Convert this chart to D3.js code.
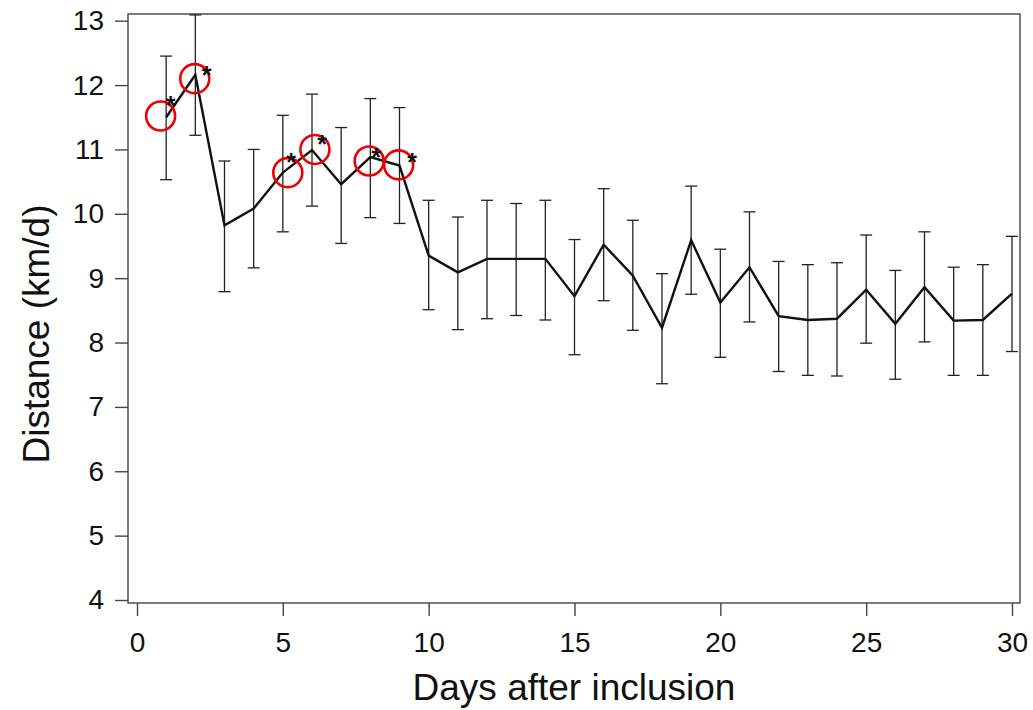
<!DOCTYPE html>
<html>
<head>
<meta charset="utf-8">
<script src="https://cdn.jsdelivr.net/npm/d3@7"></script>
<style>
  body { margin: 0; background: #fff; }
  text { font-family: "Liberation Sans", Arial, sans-serif; fill: #111; }
</style>
</head>
<body>
<div class="chart"></div>
<script>
// day-by-day mean distance with error bars
let days = d3.range(1, 31);
let means = [11.50, 12.16, 9.82, 10.08, 10.64, 10.99, 10.46, 10.88, 10.75, 9.35,
             9.09, 9.30, 9.30, 9.30, 8.72, 9.52, 9.04, 8.23, 9.59, 8.62,
             9.17, 8.41, 8.35, 8.37, 8.82, 8.29, 8.86, 8.34, 8.35, 8.76];
let upper = [12.45, 13.09, 10.82, 11.00, 11.53, 11.86, 11.34, 11.79, 11.65, 10.21,
             9.95, 10.21, 10.16, 10.21, 9.60, 10.39, 9.90, 9.07, 10.43, 9.45,
             10.03, 9.26, 9.21, 9.24, 9.67, 9.12, 9.72, 9.17, 9.21, 9.65];
let lower = [10.53, 11.22, 8.79, 9.16, 9.72, 10.12, 9.54, 9.94, 9.85, 8.51,
             8.20, 8.37, 8.42, 8.35, 7.81, 8.65, 8.19, 7.36, 8.75, 7.77,
             8.32, 7.55, 7.49, 7.48, 7.99, 7.43, 8.01, 7.49, 7.49, 7.86];

// significant days: red circles and asterisks (in data units)
let circleDays   = [0.81, 1.98, 5.17, 6.10, 7.96, 8.97];
let circleValues = [11.52, 12.10, 10.64, 11.00, 10.82, 10.76];
let starDays     = [1.15, 2.39, 5.28, 6.35, 8.20, 9.43];
let starValues   = [11.75, 12.22, 10.87, 11.15, 10.95, 10.87];

let xTicks = [0, 5, 10, 15, 20, 25, 30];
let yTicks = [4, 5, 6, 7, 8, 9, 10, 11, 12, 13];

var width = 1033, height = 710;
var box = { left: 128, right: 1020, top: 14, bottom: 603 };

let x = d3.scaleLinear().domain([0, 30]).range([137, 1012]);
let y = d3.scaleLinear().domain([4, 13]).range([600, 20.7]);

let svg = d3.select('.chart')
    .append('svg')
    .attr('width', width)
    .attr('height', height);

// frame
svg.append('rect')
    .attr('x', box.left)
    .attr('y', box.top)
    .attr('width', box.right - box.left)
    .attr('height', box.bottom - box.top)
    .attr('fill', 'none')
    .attr('stroke', '#444')
    .attr('stroke-width', 1.4);

// axes
let xAxis = svg.append('g')
    .attr('transform', 'translate(0,' + box.bottom + ')')
    .call(d3.axisBottom(x).tickValues(xTicks).tickSize(13).tickPadding(16));
let yAxis = svg.append('g')
    .attr('transform', 'translate(' + box.left + ',0)')
    .call(d3.axisLeft(y).tickValues(yTicks).tickSize(13).tickPadding(11));

[xAxis, yAxis].forEach(g => {
    g.select('.domain').remove();
    g.selectAll('line').attr('stroke', '#444').attr('stroke-width', 1.4);
    g.selectAll('text').style('font-size', '28px').attr('fill', '#111');
});

// error bars
let capW = 6;
days.forEach((d, i) => {
    let cx = x(d);
    let g = svg.append('g').attr('stroke', '#222').attr('stroke-width', 1.3);
    g.append('line')
        .attr('x1', cx).attr('x2', cx)
        .attr('y1', y(upper[i])).attr('y2', y(lower[i]));
    g.append('line')
        .attr('x1', cx - capW).attr('x2', cx + capW)
        .attr('y1', y(upper[i])).attr('y2', y(upper[i]));
    g.append('line')
        .attr('x1', cx - capW).attr('x2', cx + capW)
        .attr('y1', y(lower[i])).attr('y2', y(lower[i]));
});

// mean line
let line = d3.line()
    .x((d, i) => x(days[i]))
    .y(d => y(d));
svg.append('path')
    .datum(means)
    .attr('d', line)
    .attr('fill', 'none')
    .attr('stroke', '#111')
    .attr('stroke-width', 2.4)
    .attr('stroke-linejoin', 'miter');

// circles
circleDays.forEach((d, i) => {
    svg.append('circle')
        .attr('cx', x(d))
        .attr('cy', y(circleValues[i]))
        .attr('r', 14.5)
        .attr('fill', 'none')
        .attr('stroke', '#ee0000')
        .attr('stroke-width', 2.6);
});

// asterisks
starDays.forEach((d, i) => {
    svg.append('text')
        .attr('x', x(d))
        .attr('y', y(starValues[i]) + 13)
        .attr('text-anchor', 'middle')
        .style('font-size', '25px')
        .style('font-weight', 'bold')
        .text('*');
});

// titles
svg.append('text')
    .attr('x', 574)
    .attr('y', 700)
    .attr('text-anchor', 'middle')
    .style('font-size', '37px')
    .text('Days after inclusion');

svg.append('text')
    .attr('transform', 'translate(49,' + 334 + ') rotate(-90)')
    .attr('text-anchor', 'middle')
    .style('font-size', '37px')
    .text('Distance (km/d)');
</script>
</body>
</html>
